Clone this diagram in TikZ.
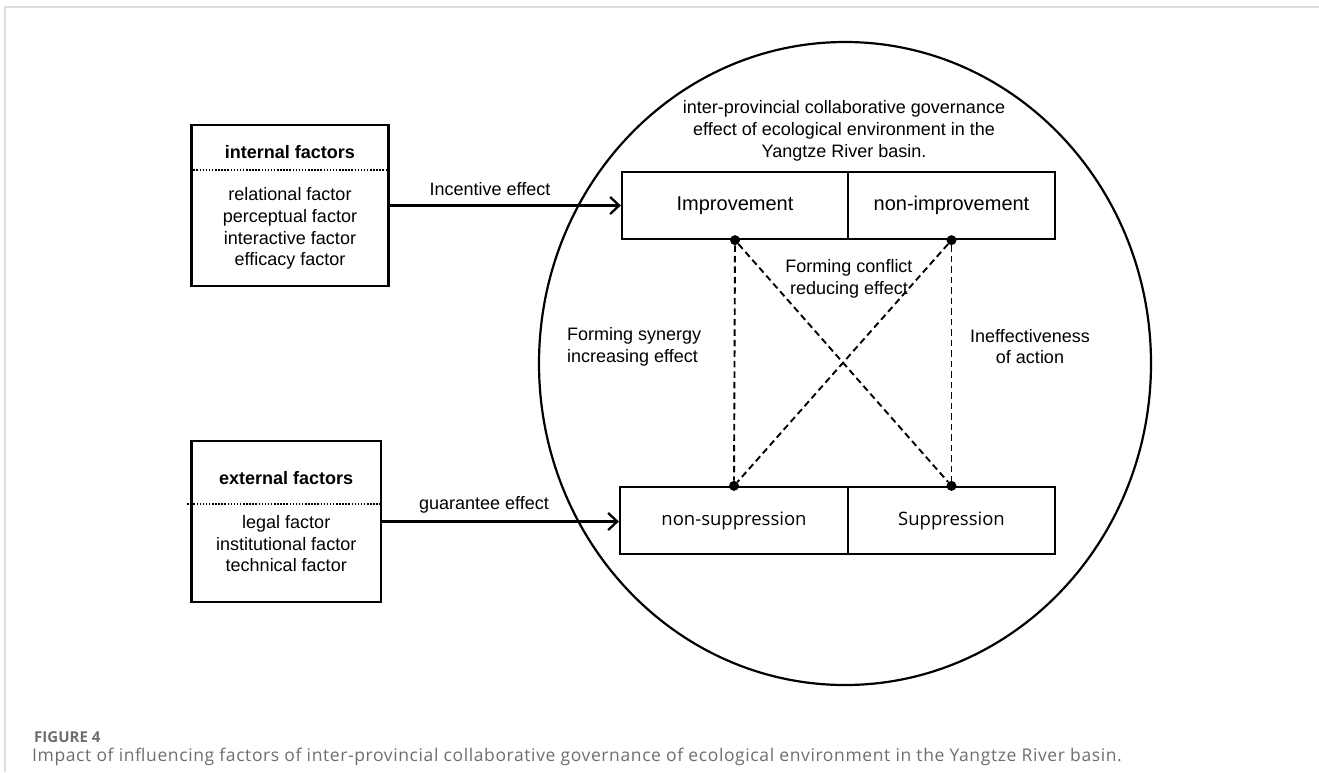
\documentclass[tikz,border=0pt]{standalone}
\usepackage{fontspec}
\setmainfont{Liberation Sans}
\newfontfamily\capfont{Open Sans}
\newfontfamily\capwide[LetterSpace=3.5]{Open Sans}
\usepackage{xcolor}
\usetikzlibrary{arrows.meta,positioning,shapes.geometric}
\definecolor{framegray}{HTML}{DCDCDC}
\definecolor{capgray}{HTML}{6E6E6E}

\begin{document}
\begin{tikzpicture}[x=1pt,y=-1pt,
  every node/.style={font=\fontsize{18}{21.7}\selectfont},
  factorbox/.style={draw,line width=2.5pt,minimum height=161pt,inner sep=0pt},
  cell/.style={draw,line width=2.3pt,minimum height=67pt,inner sep=0pt,font=\fontsize{20}{24}\selectfont},
  lowcell/.style={cell,font=\capfont\fontsize{18.5}{22}\selectfont},
  effect/.style={-{Straight Barb[length=9pt,width=17pt,line width=2.3pt]},line width=2.3pt},
  link/.style={line width=1.9pt,dash pattern=on 6.5pt off 4pt},
  sepline/.style={line width=1.8pt,dash pattern=on 1.5pt off 1.6pt},
  dot/.style={circle,fill,inner sep=0pt,minimum size=10pt}]
\useasboundingbox (0,0) rectangle (1319,772);
\draw[framegray,line width=2pt] (1319,7) -- (5,7) -- (5,772);

% governance effect of the basin
\node[draw,ellipse,line width=2.2pt,inner sep=0pt,minimum width=612pt,minimum height=643pt] (basin) at (845,363.5) {};
\node[align=center] (basintitle) at (844,131) {inter-provincial collaborative governance\\effect of ecological environment in the\\Yangtze River basin.};

\node[cell,minimum width=226pt] (imp) at (735,205.5) {Improvement};
\node[cell,minimum width=207pt] (nonimp) at (951.5,205.5) {non-improvement};
\node[lowcell,minimum width=228pt] (nonsup) at (734,520.5) {non-suppression};
\node[lowcell,minimum width=207pt] (sup) at (951.5,520.5) {Suppression};

\node[dot] (impdot) at (imp.south) {};
\node[dot] (nonimpdot) at (nonimp.south) {};
\node[dot] (nonsupdot) at (nonsup.north) {};
\node[dot] (supdot) at (sup.north) {};

\draw[link] (impdot) -- (nonsupdot);
\draw[link] (nonimpdot) -- (supdot);
\draw[link] (impdot) -- (supdot);
\draw[link] (nonimpdot) -- (nonsupdot);

\node[align=center] (conflict) at (849,279) {Forming conflict\\reducing effect};
\node[align=left,anchor=west,inner sep=0pt] (synergy) at (567,347) {Forming synergy\\increasing effect};
\node[align=center] (ineffect) at (1030,346.5) {Ineffectiveness\\of action};

% factor boxes
\node[factorbox,minimum width=197pt] (intbox) at (290,205.5) {};
\node[font=\fontsize{18}{21.7}\selectfont\bfseries] (inttitle) at (290,152) {internal factors};
\node[align=center] (intlist) at (290,228.5) {relational factor\\perceptual factor\\interactive factor\\efficacy factor};
\draw[sepline] (intbox.west |- 0,170) -- (intbox.east |- 0,170);

\node[factorbox,minimum width=189.5pt] (extbox) at (286.25,521.5) {};
\node[font=\fontsize{18}{21.7}\selectfont\bfseries] (exttitle) at (286.25,478) {external factors};
\node[align=center] (extlist) at (286.25,543.7) {legal factor\\institutional factor\\technical factor};
\draw[sepline] ([xshift=-3pt]extbox.west |- 0,504) -- (extbox.east |- 0,504);

\draw[effect] (intbox.east) -- (imp.west);
\draw[effect] (extbox.east) -- (extbox.east -| nonsup.west);
\node (inclabel) at (490,189) {Incentive effect};
\node (guarlabel) at (484,505) {guarantee effect};

% caption
\node[anchor=west,inner sep=0pt,text=capgray,font=\capfont\fontsize{15}{17}\selectfont\bfseries] (fignum) at (34,737) {FIGURE 4};
\node[anchor=west,inner sep=0pt,text=capgray,font=\capwide\fontsize{17.5}{21}\selectfont] (figcap) at (32,757) {Impact of influencing factors of inter-provincial collaborative governance of ecological environment in the Yangtze River basin.};
\end{tikzpicture}
\end{document}
